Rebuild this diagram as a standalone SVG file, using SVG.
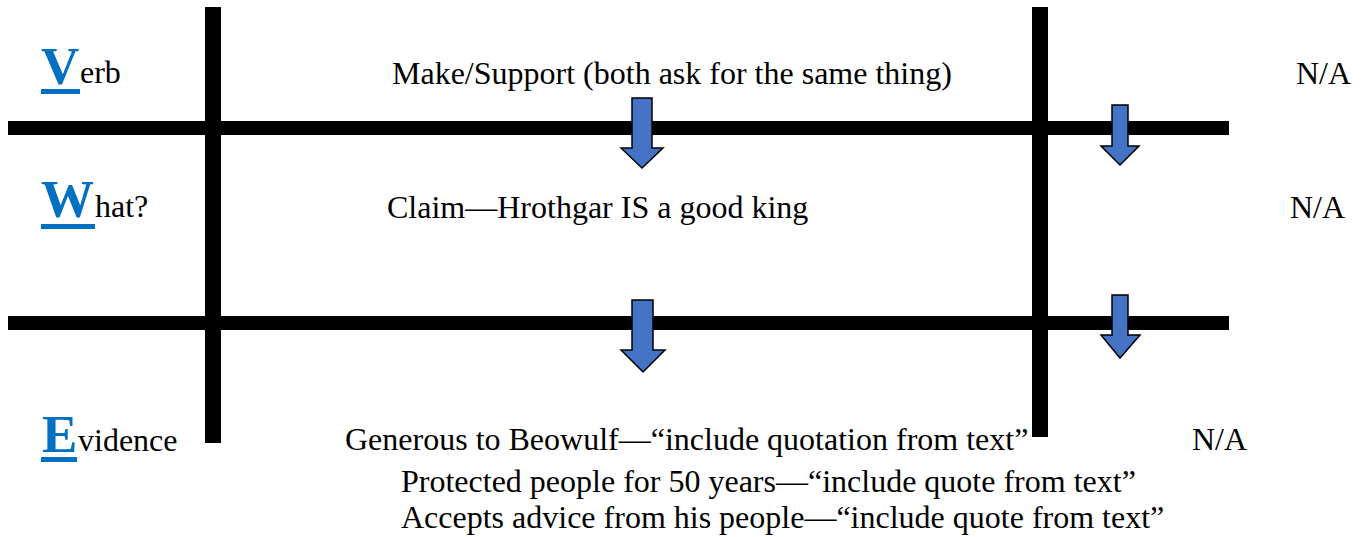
<svg xmlns="http://www.w3.org/2000/svg" width="1364" height="537" viewBox="0 0 1364 537">
  <style>
    .t { font-family: "Liberation Serif", "Times New Roman", serif; font-size: 32px; fill: #000; }
    .big { font-family: "Liberation Serif", "Times New Roman", serif; font-size: 53px; font-weight: bold; fill: #0070C0; }
    .ul { fill: #0070C0; }
    .bar { fill: #000; }
    .arrow { fill: #4472C4; stroke: #000; stroke-width: 1.5; stroke-linejoin: miter; }
  </style>
  <rect width="1364" height="537" fill="#fff"/>
  <g id="grid">
    <rect class="bar" x="205" y="7" width="16" height="436"/>
    <rect class="bar" x="1032" y="7" width="16" height="430"/>
    <rect class="bar" x="8" y="121" width="1221" height="14"/>
    <rect class="bar" x="8" y="316" width="1221" height="14"/>
  </g>
  <g id="connectors">
    <polygon class="arrow" points="632,98 652,98 652,148 663,148 642,168 621,148 632,148"/>
    <polygon class="arrow" points="1112,105 1128,105 1128,146 1139,146 1120,165 1101,146 1112,146"/>
    <polygon class="arrow" points="632,300 653,300 653,350 665,350 643,372 621,350 632,350"/>
    <polygon class="arrow" points="1112,295 1128,295 1128,335 1140,335 1120,358 1101,335 1112,335"/>
  </g>
  <g id="label-verb">
    <text class="big" x="41" y="84">V</text>
    <text class="t" x="80" y="83">erb</text>
    <rect class="ul" x="41" y="89" width="39" height="5"/>
  </g>
  <g id="label-what">
    <text class="big" x="41" y="217">W</text>
    <text class="t" x="95" y="217">hat?</text>
    <rect class="ul" x="41" y="224" width="54" height="5"/>
  </g>
  <g id="label-evidence">
    <text class="big" x="42" y="452">E</text>
    <text class="t" x="78" y="451">vidence</text>
    <rect class="ul" x="41" y="457" width="36" height="5"/>
  </g>
  <g id="verb-text">
    <text class="t" x="392" y="84">Make/Support (both ask for the same thing)</text>
  </g>
  <g id="verb-na">
    <text class="t" x="1296" y="84">N/A</text>
  </g>
  <g id="what-text">
    <text class="t" x="387" y="218">Claim—Hrothgar IS a good king</text>
  </g>
  <g id="what-na">
    <text class="t" x="1290" y="218">N/A</text>
  </g>
  <g id="evidence-text">
    <text class="t" x="345" y="450">Generous to Beowulf—“include quotation from text”</text>
    <text class="t" x="401" y="492">Protected people for 50 years—“include quote from text”</text>
    <text class="t" x="401" y="528">Accepts advice from his people—“include quote from text”</text>
  </g>
  <g id="evidence-na">
    <text class="t" x="1192" y="450">N/A</text>
  </g>
</svg>
